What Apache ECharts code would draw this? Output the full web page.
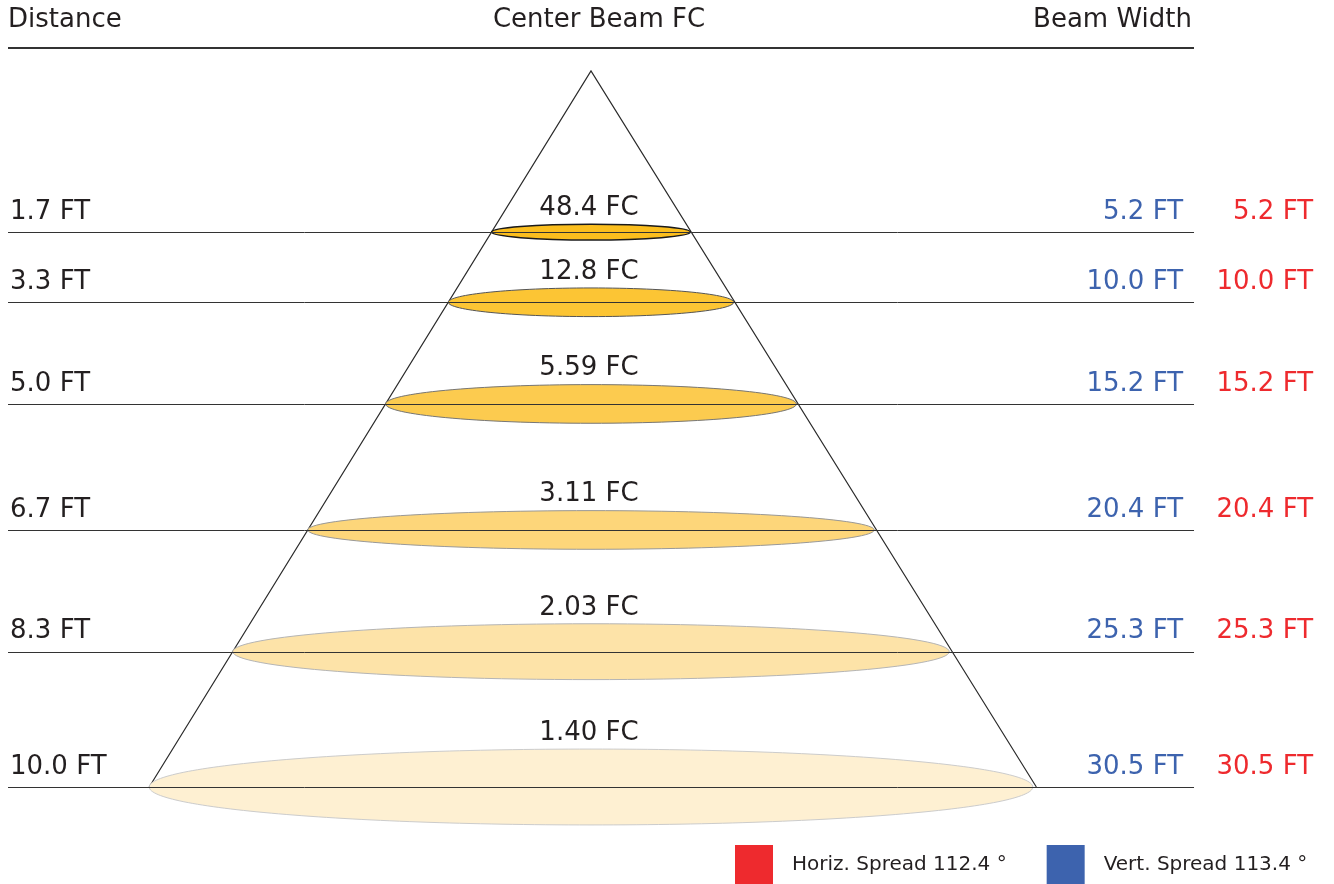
<!DOCTYPE html>
<html><head><meta charset="utf-8">
<script src="https://cdn.jsdelivr.net/npm/echarts@6/dist/echarts.min.js"></script>
<style>html,body{margin:0;padding:0;background:#fff}#c{width:1334px;height:884px}</style>
</head><body><div id="c"></div>
<script>
// ---- data ----
const distances = [1.7, 3.3, 5.0, 6.7, 8.3, 10.0];          // FT
const centerFC = [48.4, 12.8, 5.59, 3.11, 2.03, 1.40];      // FC
const vertWidth = [5.2, 10.0, 15.2, 20.4, 25.3, 30.5];      // FT (blue)
const horizWidth = [5.2, 10.0, 15.2, 20.4, 25.3, 30.5];     // FT (red)
const horizSpread = 112.4;
const vertSpread = 113.4;
const headers = ['Distance', 'Center Beam FC', 'Beam Width'];

// ---- layout (schematic diagram geometry, not data) ----
const rowDepth = [2.25, 3.23, 4.65, 6.41, 8.11, 10];
const ellipseHalfH = [0.11, 0.20, 0.27, 0.27, 0.39, 0.53];
const fills = ['#FBBE1E', '#FCC534', '#FCCB4F', '#FDD67A', '#FDE3A8', '#FEF0D2'];
const strokes = ['#1a1a1a', '#555555', '#777777', '#999999', '#b5b5b5', '#cccccc'];
const SLOPE = 0.617;
const LINE_L = -8.142, LINE_R = 8.422;
const FONT = 'DejaVu Sans';
const F26 = '26px "' + FONT + '"';
const TXT = '#231F20', BLUE = '#3D63AE', RED = '#EE2A2E';
const horizName = 'Horiz. Spread ' + horizSpread + ' °';
const vertName = 'Vert. Spread ' + vertSpread + ' °';

const rows = distances.map((d, i) => [i]);

function crisp(v) { return Math.round(v) + 0.5; }

function renderTriangle(params, api) {
  const apex = api.coord([0, 0]);
  const bl = api.coord([-SLOPE * 10, 10]);
  const br = api.coord([SLOPE * 10 + 0.05, 10]);
  return { type: 'polyline', shape: { points: [bl, apex, br] },
    style: { stroke: '#2a2a2a', lineWidth: 1.2, fill: null } };
}

function renderRow(params, api) {
  const i = api.value(0);
  const d = rowDepth[i];
  const c = api.coord([0, d]);
  const pL = api.coord([LINE_L, d]);
  const pR = api.coord([LINE_R, d]);
  const hw = api.size([SLOPE * d, 0])[0];
  const hh = api.size([0, ellipseHalfH[i]])[1];
  const y = crisp(c[1]);
  return { type: 'group', children: [
    { type: 'ellipse', shape: { cx: c[0], cy: c[1], rx: hw, ry: hh },
      style: { fill: fills[i], stroke: strokes[i], lineWidth: i === 0 ? 1.5 : 1 } },
    { type: 'line', shape: { x1: pL[0], y1: y, x2: pR[0], y2: y },
      style: { stroke: '#333', lineWidth: 1 } },
    { type: 'text', x: c[0] - 2, y: c[1] - hh - 16,
      style: { text: centerFC[i].toPrecision(3) + ' FC', align: 'center', verticalAlign: 'middle',
        font: F26, fill: TXT } },
    { type: 'text', x: pL[0] + 2, y: c[1] - 20,
      style: { text: distances[i].toFixed(1) + ' FT', align: 'left', verticalAlign: 'middle',
        font: F26, fill: TXT } }
  ] };
}

function makeWidthRenderer(arr, dx, color) {
  return function (params, api) {
    const i = api.value(0);
    const p = api.coord([LINE_R, rowDepth[i]]);
    return { type: 'text', x: p[0] + dx, y: p[1] - 20,
      style: { text: arr[i].toFixed(1) + ' FT', align: 'right', verticalAlign: 'middle',
        font: F26, fill: color } };
  };
}

const chart = echarts.init(document.getElementById('c'), null, { renderer: 'canvas' });
chart.setOption({
  animation: false,
  backgroundColor: '#fff',
  grid: { left: 0, right: 0, top: 71, bottom: 97 },
  xAxis: { type: 'value', min: -8.254, max: 10.377, show: false },
  yAxis: { type: 'value', min: 0, max: 10, inverse: true, show: false },
  legend: {
    left: 735, top: 845, padding: 0, itemWidth: 38, itemHeight: 40, itemGap: 40,
    icon: 'rect', selectedMode: false,
    textStyle: { fontFamily: FONT, fontSize: 20, color: TXT, padding: [0, 0, 8, 14] },
    data: [horizName, vertName]
  },
  graphic: [
    { type: 'text', x: 8, y: 20, style: { text: headers[0], font: F26, fill: TXT, align: 'left', verticalAlign: 'middle' } },
    { type: 'text', x: 599, y: 20, style: { text: headers[1], font: F26, fill: TXT, align: 'center', verticalAlign: 'middle' } },
    { type: 'text', x: 1192, y: 20, style: { text: headers[2], font: F26, fill: TXT, align: 'right', verticalAlign: 'middle' } },
    { type: 'line', shape: { x1: 8, y1: 48, x2: 1194, y2: 48 }, style: { stroke: '#333', lineWidth: 2 } }
  ],
  series: [
    { type: 'custom', name: 'cone', z: 1, renderItem: renderTriangle, data: [[0]], silent: true },
    { type: 'custom', name: 'rows', z: 2, renderItem: renderRow, data: rows, silent: true },
    { type: 'custom', name: horizName, z: 3, itemStyle: { color: RED },
      renderItem: makeWidthRenderer(horizWidth, 119, RED), data: rows },
    { type: 'custom', name: vertName, z: 3, itemStyle: { color: BLUE },
      renderItem: makeWidthRenderer(vertWidth, -11, BLUE), data: rows }
  ]
});
</script></body></html>
